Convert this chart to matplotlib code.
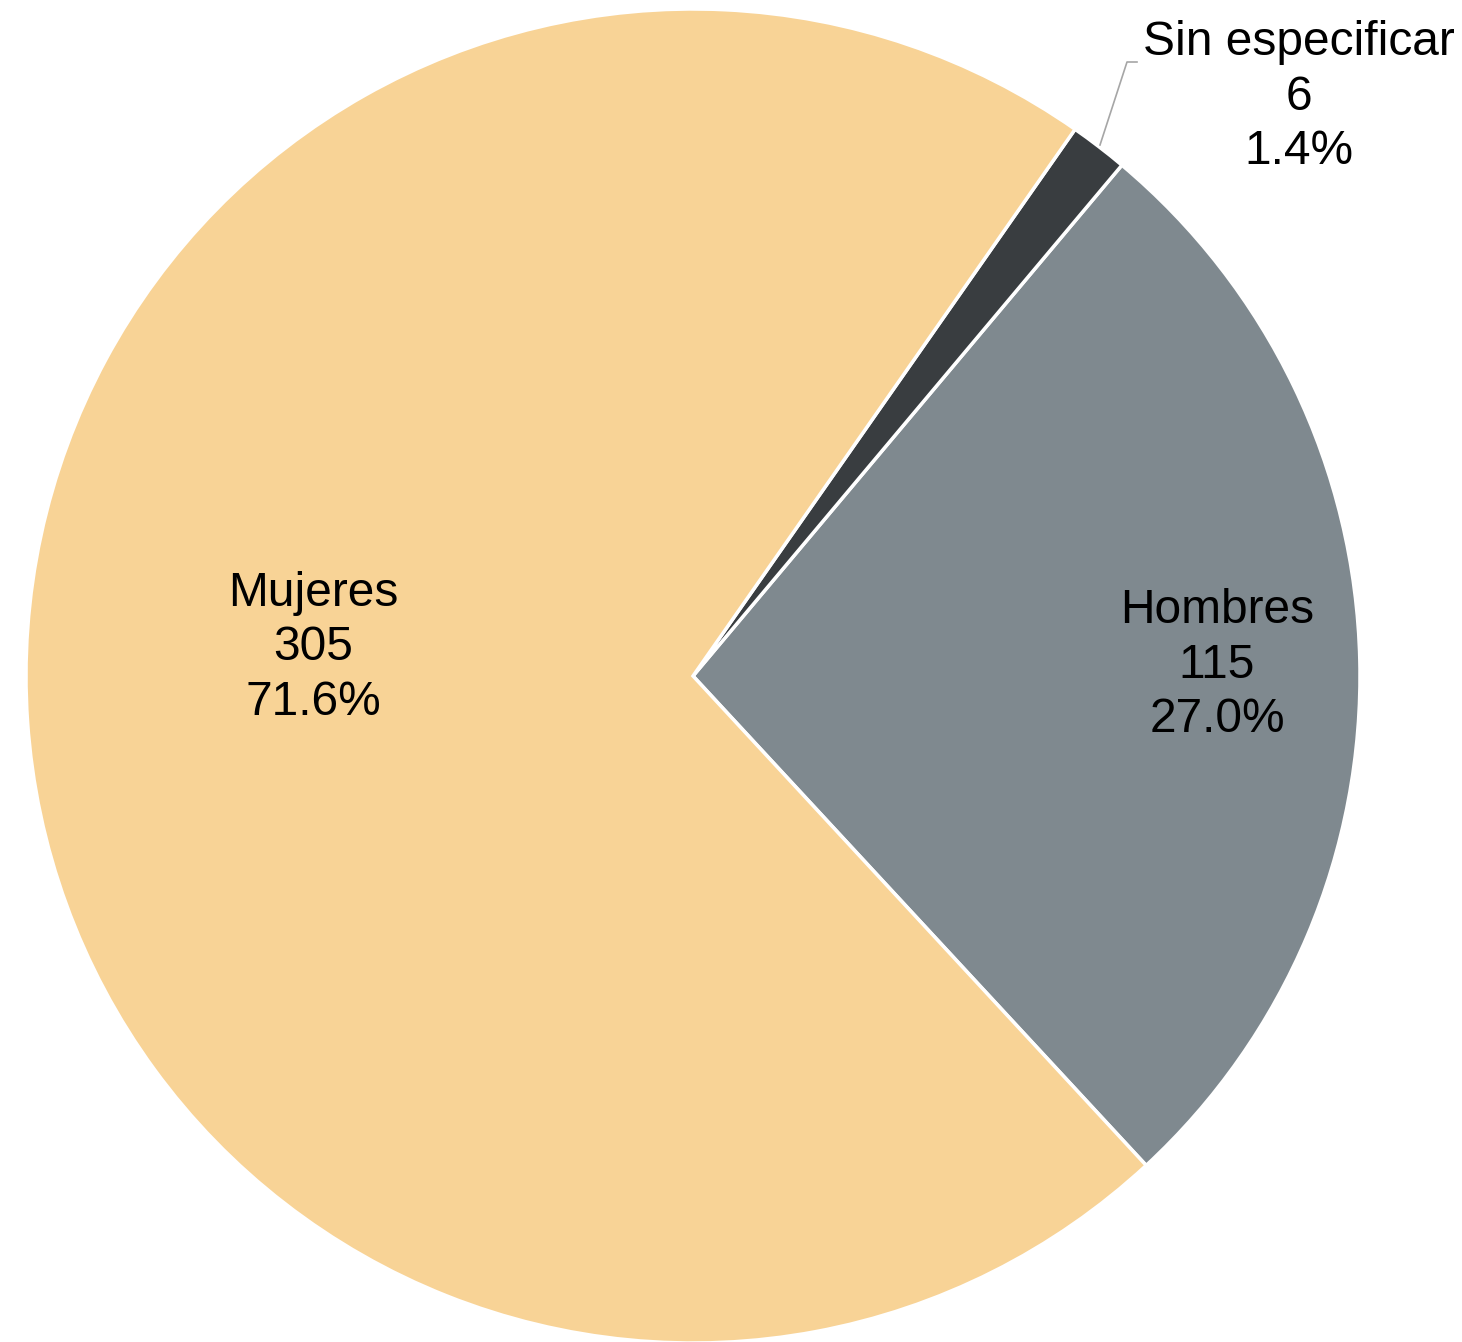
import matplotlib.pyplot as plt

# data
labels = ['Hombres', 'Sin especificar', 'Mujeres']
values = [115, 6, 305]
colors = ['#7f898f', '#393d40', '#f8d396']

plt.rcParams['font.family'] = ['Liberation Sans', 'DejaVu Sans']

fig = plt.figure(figsize=(14.62, 13.42), dpi=100)
ax = fig.add_axes([0, 0, 1, 1])

total = sum(values)
wedges, _ = ax.pie(values, colors=colors, startangle=-47.2, counterclock=True,
                   center=(693, 666), radius=667,
                   wedgeprops=dict(edgecolor='white', linewidth=2.5))

ax.set_xlim(0, 1462)
ax.set_ylim(0, 1342)
ax.set_aspect('equal')
ax.axis('off')

# label positions (pixel-like data coords)
label_pos = [(1217, 677), (1299, 1245), (313, 694)]
for lab, val, (x, y) in zip(labels, values, label_pos):
    ax.text(x, y, '%s\n%d\n%.1f%%' % (lab, val, 100.0 * val / total),
            ha='center', va='center', fontsize=34.5, linespacing=1.28, color='black')

# leader line for the small slice
ax.plot([1100, 1127, 1137], [1197, 1280, 1280], color='#a6a6a6', linewidth=1.2)

fig.savefig('out.png', dpi=100)
